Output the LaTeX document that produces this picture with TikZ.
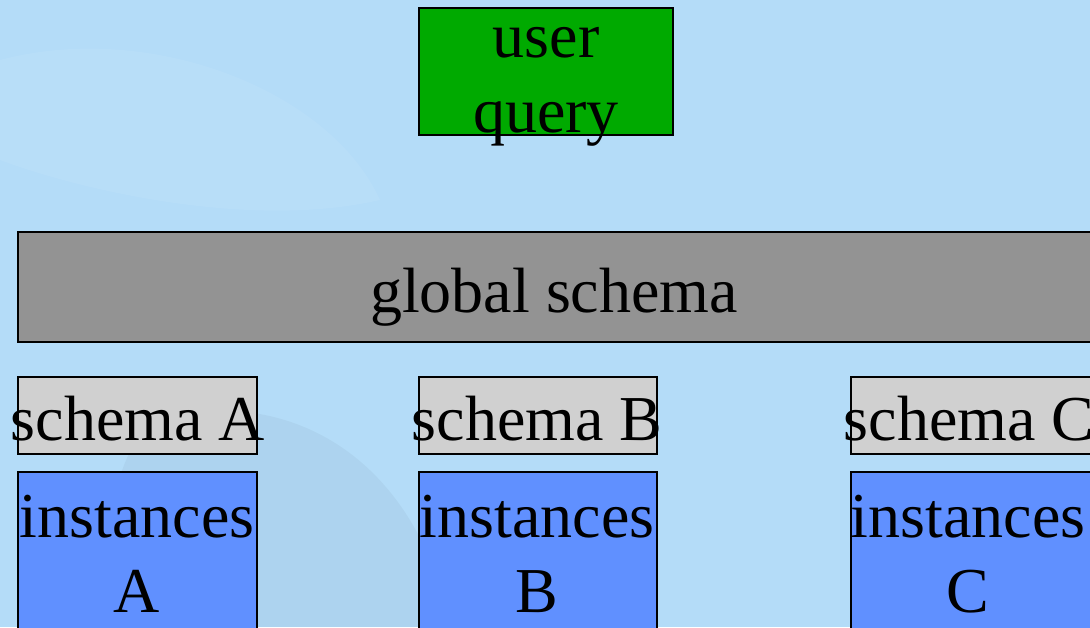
\documentclass[tikz,border=0pt]{standalone}
\usepackage{fontspec}
\setmainfont{Liberation Serif}
\definecolor{bgblue}{HTML}{B4DCF8}
\definecolor{qgreen}{HTML}{00AA00}
\definecolor{ggray}{HTML}{939393}
\definecolor{sgray}{HTML}{D0D0D0}
\definecolor{iblue}{HTML}{6090FF}
\begin{document}
\begin{tikzpicture}[x=1pt,y=-1pt,
  box/.style={draw=black,line width=1.5pt,inner sep=0pt,outer sep=0pt},
  lbl/.style={inner sep=0pt,anchor=base,font=\fontsize{64}{75}\selectfont}]
\useasboundingbox (0,0) rectangle (1090,627);
\clip (0,0) rectangle (1090,627);
\fill[bgblue] (0,0) rectangle (1090,627);
\fill[white,opacity=0.06] (0,60) .. controls (150,20) and (330,90) .. (380,200) .. controls (250,230) and (80,190) .. (0,160) -- cycle;
\fill[black!30!bgblue,opacity=0.12] (150,420) .. controls (300,380) and (420,470) .. (450,627) -- (120,627) .. controls (100,540) and (110,470) .. (150,420);
% boxes
\node[box,fill=qgreen,minimum width=254pt,minimum height=127pt,anchor=north west] (uq) at (419,8) {};
\node[box,fill=ggray,minimum width=1076pt,minimum height=110pt,anchor=north west] (gs) at (18,232) {};
\node[box,fill=sgray,minimum width=239pt,minimum height=77pt,anchor=north west] (sa) at (18,377) {};
\node[box,fill=sgray,minimum width=238pt,minimum height=77pt,anchor=north west] (sb) at (419,377) {};
\node[box,fill=sgray,minimum width=243pt,minimum height=77pt,anchor=north west] (sc) at (851,377) {};
\node[box,fill=iblue,minimum width=239pt,minimum height=170pt,anchor=north west] (ia) at (18,472) {};
\node[box,fill=iblue,minimum width=238pt,minimum height=170pt,anchor=north west] (ib) at (419,472) {};
\node[box,fill=iblue,minimum width=243pt,minimum height=170pt,anchor=north west] (ic) at (851,472) {};
% texts
\node[lbl] (t1) at (546,57) {user};
\node[lbl] (t2) at (546,132) {query};
\node[lbl] (t3) at (554,312) {global schema};
\node[lbl] (t4) at (138,440) {schema A};
\node[lbl] (t5) at (537,440) {schema B};
\node[lbl] (t6) at (969,440) {schema C};
\node[lbl] (t7) at (137,537) {instances};
\node[lbl] (t8) at (137,612) {A};
\node[lbl] (t9) at (537,537) {instances};
\node[lbl] (t10) at (537,612) {B};
\node[lbl] (t11) at (968,537) {instances};
\node[lbl] (t12) at (968,612) {C};
\end{tikzpicture}
\end{document}
